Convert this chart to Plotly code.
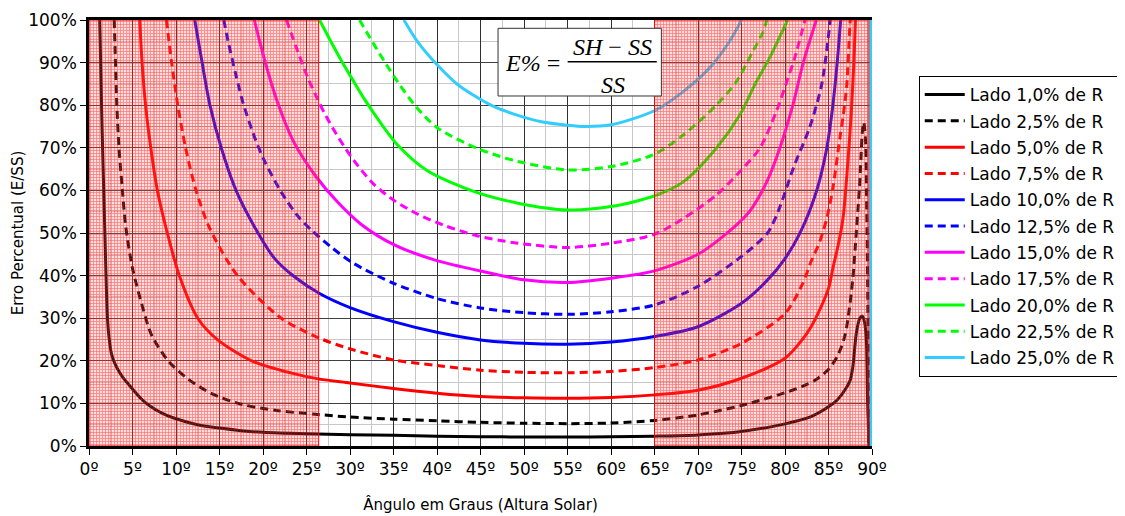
import plotly.graph_objects as go

# ---------------- data ----------------
series_names = ["Lado 1,0% de R", "Lado 2,5% de R", "Lado 5,0% de R", "Lado 7,5% de R",
                "Lado 10,0% de R", "Lado 12,5% de R", "Lado 15,0% de R", "Lado 17,5% de R",
                "Lado 20,0% de R", "Lado 22,5% de R", "Lado 25,0% de R"]

ang_10 = [1.23, 1.5, 1.8, 2.1, 2.3, 2.6, 3.0, 3.5, 4.0, 5, 6, 7, 8.5, 10, 12.5, 15, 17.5, 20, 25, 30, 35, 40,
          45, 50, 55, 60, 65, 70, 75, 80, 83, 85, 86, 87, 87.5, 87.8, 88.2, 88.6, 88.9, 89.15, 89.35, 89.5, 89.66]
err_10 = [100, 75, 52, 31, 25.5, 21.5, 19.2, 17.3, 15.8, 13.4, 11.1, 9.4, 7.6, 6.4, 5.0, 4.2, 3.6, 3.2, 2.85, 2.65, 2.5, 2.3,
          2.2, 2.1, 2.1, 2.15, 2.3, 2.6, 3.4, 5.2, 6.9, 9.2, 10.8, 13.5, 15.5, 18.6, 26.5, 30, 30.5, 29, 24.9, 10, 0]

ang_25 = [2.9, 3.0, 3.2, 3.45, 3.84, 4.2, 5, 6.2, 7.2, 9.1, 11.4, 14.1, 17.5, 21.7, 26.3, 30, 35, 40, 45, 50,
          55, 60, 65, 70, 75, 80, 82, 83.5, 85.1, 86.1, 86.9, 87.4, 87.8, 88.2, 88.6, 88.9, 89.05, 89.25, 89.4, 89.5, 89.6]
err_25 = [100, 93, 80, 69.9, 60, 51.9, 41.7, 32.3, 26, 20, 15.7, 12.3, 9.8, 8.3, 7.4, 6.8, 6.3, 5.9, 5.55, 5.35,
          5.25, 5.4, 6.0, 7.3, 9.5, 12.5, 14, 15.5, 18.2, 21.4, 26, 32.3, 39.4, 50.3, 62, 74, 76, 72, 55, 38, 0]

ang_50 = [5.83, 6.1, 6.5, 7.1, 7.86, 9.0, 10.4, 12.5, 14.8, 18.7, 23.3, 26.5, 30, 35, 40, 45, 50, 55, 60, 65,
          70, 75, 80, 82, 83, 84, 85, 85.5, 86.2, 86.7, 87.2, 87.6, 87.9, 88.1]
err_50 = [100, 90, 80, 70, 60, 50, 39.9, 30, 24.9, 20, 17.1, 15.7, 14.8, 13.5, 12.4, 11.6, 11.3, 11.2, 11.4, 12,
          13.1, 15.9, 20.6, 25, 28, 32, 37, 41.7, 48, 54, 66, 77.7, 89.4, 100]

ang_75 = [8.9, 9.5, 10.2, 11.1, 12.3, 13.9, 17.1, 22.1, 26.5, 30, 35, 40, 45, 50, 55, 60, 65, 70, 75, 80,
          82, 83, 84, 84.8, 85.5, 86.3, 86.7, 87.1, 87.4, 87.5]
err_75 = [100, 90, 80, 70, 60, 51, 39.9, 30, 25.3, 22.8, 20.2, 18.9, 17.8, 17.3, 17.2, 17.5, 18.4, 20.2, 24.1, 31.1,
          38, 43.3, 48, 53.4, 60.5, 72.2, 77.7, 84.7, 96.5, 100]

ang_100 = [12.15, 13.0, 13.9, 15.2, 16.9, 18.9, 21.3, 23.5, 26.5, 30, 35, 40, 45, 50, 55, 60, 65, 70, 75, 78,
           80, 81.7, 83.6, 84.8, 85.5, 86.0, 86.4]
err_100 = [100, 90, 80, 70, 60, 51.9, 44.1, 39.9, 35.8, 32.5, 29.2, 26.7, 24.9, 24.1, 23.9, 24.4, 25.7, 28, 33.5, 39,
           44, 49.9, 59.7, 69.9, 80, 90, 100]

ang_125 = [15.5, 16.0, 16.9, 17.7, 18.9, 20.1, 22.1, 24.0, 25.6, 27.9, 30.3, 35, 40, 45, 50, 55, 60, 65, 70, 75,
           78, 79.2, 81.1, 82.8, 84.2, 85.2]
err_125 = [100, 94.9, 87, 80.6, 73.2, 67.2, 59.6, 54.0, 50.6, 46.6, 43.0, 38.2, 34.6, 32.4, 31.3, 30.9, 31.5, 33.1, 37.5, 44.5,
           50, 55, 66, 74.6, 84.7, 100]

ang_150 = [19.0, 20.2, 21.7, 23.5, 26.0, 28.6, 31.3, 35.1, 39.7, 45.4, 50, 55, 60, 65, 70, 73.3, 75.9, 77.9,
           79.4, 80.9, 82.1, 83.6]
err_150 = [100, 90.5, 80.5, 71.5, 63.5, 57.2, 52.0, 47.2, 43.7, 40.9, 39, 38.4, 39.4, 41.1, 45, 49.9, 55, 62,
           69.9, 80, 90, 100]

ang_175 = [22.7, 24.0, 25.2, 26.3, 27.1, 28.2, 29.4, 30.9, 32.8, 35.1, 37.8, 40.8, 44.7, 49.3, 55, 60, 65, 68.3,
           72.1, 74.8, 77.1, 79.0, 80.2, 81.1, 82.3]
err_175 = [100, 92.6, 86.2, 81.3, 78.0, 74.0, 70.1, 65.8, 61.3, 57.6, 54.4, 51.8, 49.3, 47.6, 46.6, 47.6, 49.7, 53.4,
           58.9, 64.4, 69.9, 78.5, 85.5, 91, 100]

ang_200 = [26.5, 28.0, 29.2, 30.3, 31.7, 33.6, 35.5, 38.9, 44.3, 49.3, 55, 60, 65, 68.3, 72.1, 74.8, 76.7, 78.2, 80.3]
err_200 = [100, 94.2, 89.8, 86.0, 81.3, 75.6, 70.6, 64.6, 59.7, 57.0, 55.4, 56.2, 58.7, 62, 69.9, 77.7, 85.5, 91, 100]

ang_225 = [31.1, 32.6, 34.1, 35.5, 37.6, 40.1, 44.7, 49.3, 55, 60, 65, 68.3, 72.1, 74.4, 76.3, 77.5, 77.9]
err_225 = [100, 94.8, 89.8, 85.4, 79.6, 74.6, 69.8, 66.8, 64.8, 65.6, 68.5, 73, 80, 85.5, 92.6, 97.3, 100]

ang_250 = [36.2, 37.8, 40.1, 42.4, 46.2, 49.3, 52, 55, 57, 60, 65, 68.3, 71.3, 73.6, 75]
err_250 = [100, 94.8, 89.3, 84.8, 80, 77.6, 76.1, 75.3, 75.0, 75.4, 78.7, 83.2, 88.7, 94.9, 100]

# vertical fall of the curves right at 90º (only the ones that leave the top of the chart)
drop_ang = [89.9, 89.93]
drop_err = [500, 0]
has_drop = [False, False, True, True, True, True, True, True, True, True, True]

angles = [ang_10, ang_25, ang_50, ang_75, ang_100, ang_125, ang_150, ang_175, ang_200, ang_225, ang_250]
errors = [err_10, err_25, err_50, err_75, err_100, err_125, err_150, err_175, err_200, err_225, err_250]

colors = ["#000000", "#000000", "#ff0000", "#ff0000", "#0000ff", "#0000ff",
          "#ff00ff", "#ff00ff", "#00ff00", "#00ff00", "#33ccff"]
dashes = ["solid", "8px,5px", "solid", "8px,5px", "solid", "8px,5px",
          "solid", "8px,5px", "solid", "8px,5px", "solid"]

x_ticks = list(range(0, 91, 5))
x_tick_labels = [f"{v}º" for v in x_ticks]
y_ticks = list(range(0, 101, 10))
y_tick_labels = [f"{v}%" for v in y_ticks]

shade_bands = [(0, 26.4), (65, 89.56)]

# ---------------- figure ----------------
fig = go.Figure()

for i, (name, xs, ys, c, d) in enumerate(zip(series_names, angles, errors, colors, dashes)):
    fig.add_trace(go.Scatter(x=xs, y=ys, mode="lines", name=name, legendgroup=f"g{i}",
                             line=dict(color=c, width=3, dash=d, shape="spline", smoothing=0.8)))

for i, c in enumerate(colors):
    if has_drop[i]:
        fig.add_trace(go.Scatter(x=drop_ang, y=drop_err, mode="lines", showlegend=False,
                                 legendgroup=f"g{i}", hoverinfo="skip",
                                 line=dict(color=c, width=3)))

for a, b in shade_bands:
    fig.add_trace(go.Scatter(
        x=[a, b, b, a, a], y=[0, 0, 100, 100, 0], mode="lines", fill="toself",
        showlegend=False, hoverinfo="skip",
        line=dict(color="#ff0000", width=1),
        fillcolor="rgba(255,110,110,0.22)",
        fillpattern=dict(shape="+", fgcolor="#ff0000", fgopacity=0.5,
                         bgcolor="rgba(255,110,110,0.22)", size=3, solidity=0.4)))

font_main = "DejaVu Sans"

# the page adds an 8 px body margin, so the figure is sized/margined to land on the reference pixels
fig.update_layout(
    width=1117, height=508,
    margin=dict(l=81.3, r=252.7, t=12, b=70, autoexpand=False),
    paper_bgcolor="white", plot_bgcolor="white",
    font=dict(family=font_main, color="black", size=17),
    showlegend=True,
    legend=dict(x=1.0597, y=0.8685, xanchor="left", yanchor="top",
                bgcolor="white", bordercolor="black", borderwidth=1,
                font=dict(family=font_main, size=17, color="black"),
                itemwidth=40, tracegroupgap=1.2, traceorder="grouped"),
)

fig.update_xaxes(
    range=[0, 90], tickmode="array", tickvals=x_ticks, ticktext=x_tick_labels,
    showgrid=True, gridcolor="#303030", gridwidth=1,
    minor=dict(dtick=2.5, showgrid=True, gridcolor="#c8c8c8", gridwidth=1),
    showline=True, linecolor="black", linewidth=2.5, mirror=True,
    ticks="outside", ticklen=6, tickcolor="black",
    zeroline=False, tickfont=dict(size=17),
    title=dict(text="Ângulo em Graus (Altura Solar)", font=dict(size=15), standoff=22),
)
fig.update_yaxes(
    range=[0, 100], tickmode="array", tickvals=y_ticks, ticktext=y_tick_labels,
    showgrid=True, gridcolor="#404040", gridwidth=1,
    minor=dict(dtick=5, showgrid=True, gridcolor="#c8c8c8", gridwidth=1),
    showline=True, linecolor="black", linewidth=2.5, mirror=False,
    ticks="outside", ticklen=6, tickcolor="black",
    zeroline=False, tickfont=dict(size=17),
    title=dict(text="Erro Percentual (E/SS)", font=dict(size=15), standoff=1),
)

# formula box  E% = (SH - SS) / SS
fig.add_shape(type="rect", xref="paper", yref="paper", x0=0.5224, x1=0.731, y0=0.8216, y1=0.9805,
              fillcolor="white", line=dict(color="#333333", width=1), layer="above")
fig.add_shape(type="line", xref="paper", yref="paper", x0=0.6113, x1=0.7251, y0=0.9021, y1=0.9021,
              line=dict(color="black", width=1.5), layer="above")
serif = dict(family="Liberation Serif", size=24, color="black")
fig.add_annotation(xref="paper", yref="paper", x=0.5667, y=0.899, text="<i>E%</i> =",
                   showarrow=False, font=serif, xanchor="center", yanchor="middle")
fig.add_annotation(xref="paper", yref="paper", x=0.6688, y=0.9373, text="<i>SH</i> − <i>SS</i>",
                   showarrow=False, font=serif, xanchor="center", yanchor="middle")
fig.add_annotation(xref="paper", yref="paper", x=0.6688, y=0.8474, text="<i>SS</i>",
                   showarrow=False, font=serif, xanchor="center", yanchor="middle")

fig.write_html("out.html")
